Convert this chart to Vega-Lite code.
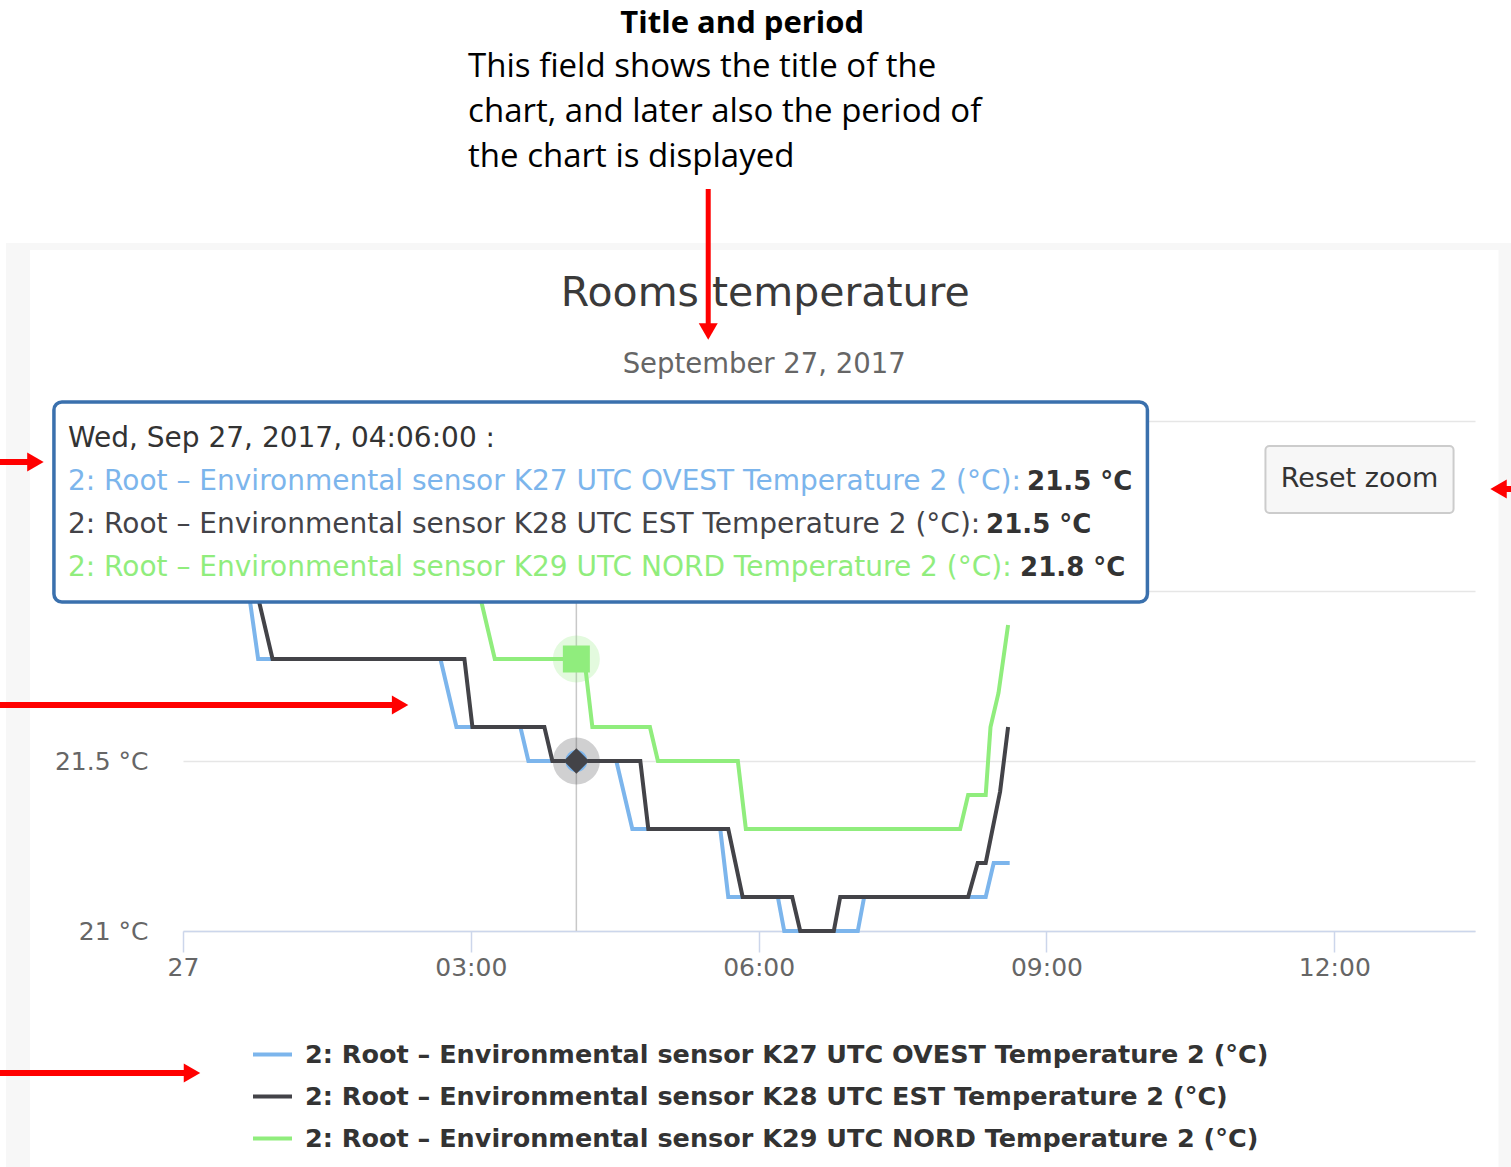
{
  "$schema": "https://vega.github.io/schema/vega-lite/v6.json",
  "autosize": {"type": "none"},
  "width": 1292,
  "height": 510,
  "padding": {"left": 183, "top": 421, "right": 36, "bottom": 236},
  "background": "white",
  "data": {"values": [{}]},
  "config": {
    "view": {"stroke": null},
    "font": "DejaVu Sans"
  },
  "datasets": {
    "readings": [
      {"sensor": "2: Root – Environmental sensor K27 UTC OVEST Temperature 2 (°C)", "time": "2017-09-27T00:00:00Z", "temperature": 22.2},
      {"sensor": "2: Root – Environmental sensor K27 UTC OVEST Temperature 2 (°C)", "time": "2017-09-27T00:36:00Z", "temperature": 22.2},
      {"sensor": "2: Root – Environmental sensor K27 UTC OVEST Temperature 2 (°C)", "time": "2017-09-27T00:41:00Z", "temperature": 22.0},
      {"sensor": "2: Root – Environmental sensor K27 UTC OVEST Temperature 2 (°C)", "time": "2017-09-27T00:47:00Z", "temperature": 21.8},
      {"sensor": "2: Root – Environmental sensor K27 UTC OVEST Temperature 2 (°C)", "time": "2017-09-27T02:41:00Z", "temperature": 21.8},
      {"sensor": "2: Root – Environmental sensor K27 UTC OVEST Temperature 2 (°C)", "time": "2017-09-27T02:51:00Z", "temperature": 21.6},
      {"sensor": "2: Root – Environmental sensor K27 UTC OVEST Temperature 2 (°C)", "time": "2017-09-27T03:31:00Z", "temperature": 21.6},
      {"sensor": "2: Root – Environmental sensor K27 UTC OVEST Temperature 2 (°C)", "time": "2017-09-27T03:36:00Z", "temperature": 21.5},
      {"sensor": "2: Root – Environmental sensor K27 UTC OVEST Temperature 2 (°C)", "time": "2017-09-27T04:31:00Z", "temperature": 21.5},
      {"sensor": "2: Root – Environmental sensor K27 UTC OVEST Temperature 2 (°C)", "time": "2017-09-27T04:41:00Z", "temperature": 21.3},
      {"sensor": "2: Root – Environmental sensor K27 UTC OVEST Temperature 2 (°C)", "time": "2017-09-27T05:36:00Z", "temperature": 21.3},
      {"sensor": "2: Root – Environmental sensor K27 UTC OVEST Temperature 2 (°C)", "time": "2017-09-27T05:41:00Z", "temperature": 21.1},
      {"sensor": "2: Root – Environmental sensor K27 UTC OVEST Temperature 2 (°C)", "time": "2017-09-27T06:12:00Z", "temperature": 21.1},
      {"sensor": "2: Root – Environmental sensor K27 UTC OVEST Temperature 2 (°C)", "time": "2017-09-27T06:16:00Z", "temperature": 21.0},
      {"sensor": "2: Root – Environmental sensor K27 UTC OVEST Temperature 2 (°C)", "time": "2017-09-27T07:02:00Z", "temperature": 21.0},
      {"sensor": "2: Root – Environmental sensor K27 UTC OVEST Temperature 2 (°C)", "time": "2017-09-27T07:06:00Z", "temperature": 21.1},
      {"sensor": "2: Root – Environmental sensor K27 UTC OVEST Temperature 2 (°C)", "time": "2017-09-27T08:22:00Z", "temperature": 21.1},
      {"sensor": "2: Root – Environmental sensor K27 UTC OVEST Temperature 2 (°C)", "time": "2017-09-27T08:27:00Z", "temperature": 21.2},
      {"sensor": "2: Root – Environmental sensor K27 UTC OVEST Temperature 2 (°C)", "time": "2017-09-27T08:37:00Z", "temperature": 21.2},
      {"sensor": "2: Root – Environmental sensor K28 UTC EST Temperature 2 (°C)", "time": "2017-09-27T00:00:00Z", "temperature": 22.3},
      {"sensor": "2: Root – Environmental sensor K28 UTC EST Temperature 2 (°C)", "time": "2017-09-27T00:38:00Z", "temperature": 22.3},
      {"sensor": "2: Root – Environmental sensor K28 UTC EST Temperature 2 (°C)", "time": "2017-09-27T00:46:00Z", "temperature": 22.0},
      {"sensor": "2: Root – Environmental sensor K28 UTC EST Temperature 2 (°C)", "time": "2017-09-27T00:56:00Z", "temperature": 21.8},
      {"sensor": "2: Root – Environmental sensor K28 UTC EST Temperature 2 (°C)", "time": "2017-09-27T02:56:00Z", "temperature": 21.8},
      {"sensor": "2: Root – Environmental sensor K28 UTC EST Temperature 2 (°C)", "time": "2017-09-27T03:01:00Z", "temperature": 21.6},
      {"sensor": "2: Root – Environmental sensor K28 UTC EST Temperature 2 (°C)", "time": "2017-09-27T03:46:00Z", "temperature": 21.6},
      {"sensor": "2: Root – Environmental sensor K28 UTC EST Temperature 2 (°C)", "time": "2017-09-27T03:51:00Z", "temperature": 21.5},
      {"sensor": "2: Root – Environmental sensor K28 UTC EST Temperature 2 (°C)", "time": "2017-09-27T04:46:00Z", "temperature": 21.5},
      {"sensor": "2: Root – Environmental sensor K28 UTC EST Temperature 2 (°C)", "time": "2017-09-27T04:51:00Z", "temperature": 21.3},
      {"sensor": "2: Root – Environmental sensor K28 UTC EST Temperature 2 (°C)", "time": "2017-09-27T05:41:00Z", "temperature": 21.3},
      {"sensor": "2: Root – Environmental sensor K28 UTC EST Temperature 2 (°C)", "time": "2017-09-27T05:50:00Z", "temperature": 21.1},
      {"sensor": "2: Root – Environmental sensor K28 UTC EST Temperature 2 (°C)", "time": "2017-09-27T06:21:00Z", "temperature": 21.1},
      {"sensor": "2: Root – Environmental sensor K28 UTC EST Temperature 2 (°C)", "time": "2017-09-27T06:26:00Z", "temperature": 21.0},
      {"sensor": "2: Root – Environmental sensor K28 UTC EST Temperature 2 (°C)", "time": "2017-09-27T06:47:00Z", "temperature": 21.0},
      {"sensor": "2: Root – Environmental sensor K28 UTC EST Temperature 2 (°C)", "time": "2017-09-27T06:51:00Z", "temperature": 21.1},
      {"sensor": "2: Root – Environmental sensor K28 UTC EST Temperature 2 (°C)", "time": "2017-09-27T08:11:00Z", "temperature": 21.1},
      {"sensor": "2: Root – Environmental sensor K28 UTC EST Temperature 2 (°C)", "time": "2017-09-27T08:17:00Z", "temperature": 21.2},
      {"sensor": "2: Root – Environmental sensor K28 UTC EST Temperature 2 (°C)", "time": "2017-09-27T08:22:00Z", "temperature": 21.2},
      {"sensor": "2: Root – Environmental sensor K28 UTC EST Temperature 2 (°C)", "time": "2017-09-27T08:31:00Z", "temperature": 21.41},
      {"sensor": "2: Root – Environmental sensor K28 UTC EST Temperature 2 (°C)", "time": "2017-09-27T08:36:00Z", "temperature": 21.6},
      {"sensor": "2: Root – Environmental sensor K29 UTC NORD Temperature 2 (°C)", "time": "2017-09-27T00:00:00Z", "temperature": 22.4},
      {"sensor": "2: Root – Environmental sensor K29 UTC NORD Temperature 2 (°C)", "time": "2017-09-27T02:50:00Z", "temperature": 22.4},
      {"sensor": "2: Root – Environmental sensor K29 UTC NORD Temperature 2 (°C)", "time": "2017-09-27T03:05:00Z", "temperature": 22.0},
      {"sensor": "2: Root – Environmental sensor K29 UTC NORD Temperature 2 (°C)", "time": "2017-09-27T03:15:00Z", "temperature": 21.8},
      {"sensor": "2: Root – Environmental sensor K29 UTC NORD Temperature 2 (°C)", "time": "2017-09-27T04:11:00Z", "temperature": 21.8},
      {"sensor": "2: Root – Environmental sensor K29 UTC NORD Temperature 2 (°C)", "time": "2017-09-27T04:16:00Z", "temperature": 21.6},
      {"sensor": "2: Root – Environmental sensor K29 UTC NORD Temperature 2 (°C)", "time": "2017-09-27T04:52:00Z", "temperature": 21.6},
      {"sensor": "2: Root – Environmental sensor K29 UTC NORD Temperature 2 (°C)", "time": "2017-09-27T04:57:00Z", "temperature": 21.5},
      {"sensor": "2: Root – Environmental sensor K29 UTC NORD Temperature 2 (°C)", "time": "2017-09-27T05:47:00Z", "temperature": 21.5},
      {"sensor": "2: Root – Environmental sensor K29 UTC NORD Temperature 2 (°C)", "time": "2017-09-27T05:52:00Z", "temperature": 21.3},
      {"sensor": "2: Root – Environmental sensor K29 UTC NORD Temperature 2 (°C)", "time": "2017-09-27T08:06:00Z", "temperature": 21.3},
      {"sensor": "2: Root – Environmental sensor K29 UTC NORD Temperature 2 (°C)", "time": "2017-09-27T08:11:00Z", "temperature": 21.4},
      {"sensor": "2: Root – Environmental sensor K29 UTC NORD Temperature 2 (°C)", "time": "2017-09-27T08:22:00Z", "temperature": 21.4},
      {"sensor": "2: Root – Environmental sensor K29 UTC NORD Temperature 2 (°C)", "time": "2017-09-27T08:25:00Z", "temperature": 21.6},
      {"sensor": "2: Root – Environmental sensor K29 UTC NORD Temperature 2 (°C)", "time": "2017-09-27T08:30:00Z", "temperature": 21.7},
      {"sensor": "2: Root – Environmental sensor K29 UTC NORD Temperature 2 (°C)", "time": "2017-09-27T08:36:00Z", "temperature": 21.9}
    ],
    "hovered": [
      {"sensor": "2: Root – Environmental sensor K27 UTC OVEST Temperature 2 (°C)", "time": "2017-09-27T04:06:00Z", "temperature": 21.5},
      {"sensor": "2: Root – Environmental sensor K28 UTC EST Temperature 2 (°C)", "time": "2017-09-27T04:06:00Z", "temperature": 21.5},
      {"sensor": "2: Root – Environmental sensor K29 UTC NORD Temperature 2 (°C)", "time": "2017-09-27T04:06:00Z", "temperature": 21.8}
    ]
  },
  "layer": [
    {
      "data": {"name": "readings"},
      "mark": {"type": "line", "strokeWidth": 4, "interpolate": "linear"},
      "encoding": {
        "x": {
          "field": "time", "type": "temporal",
          "scale": {"type": "utc", "nice": false, "domain": [
            {"year": 2017, "month": 9, "date": 27, "hours": 0, "minutes": 0, "utc": true},
            {"year": 2017, "month": 9, "date": 27, "hours": 13, "minutes": 28, "utc": true}
          ]},
          "axis": {
            "title": null, "grid": false,
            "values": [
              {"year": 2017, "month": 9, "date": 27, "hours": 0, "utc": true},
              {"year": 2017, "month": 9, "date": 27, "hours": 3, "utc": true},
              {"year": 2017, "month": 9, "date": 27, "hours": 6, "utc": true},
              {"year": 2017, "month": 9, "date": 27, "hours": 9, "utc": true},
              {"year": 2017, "month": 9, "date": 27, "hours": 12, "utc": true}
            ],
            "labelExpr": "utchours(datum.value) == 0 ? utcFormat(datum.value, '%d') : utcFormat(datum.value, '%H:%M')",
            "domainColor": "#ccd6eb", "domainWidth": 1.5, "tickColor": "#ccd6eb", "tickWidth": 1.5, "tickSize": 21,
            "labelPadding": 3, "labelFontSize": 25, "labelColor": "#666666", "labelFont": "DejaVu Sans",
            "labelFlush": false, "labelOverlap": false
          }
        },
        "y": {
          "field": "temperature", "type": "quantitative",
          "scale": {"domain": [21, 22.5], "nice": false, "zero": false},
          "axis": {
            "title": null, "values": [21, 21.5, 22, 22.5],
            "labelExpr": "datum.value < 22 ? datum.value + ' °C' : ''",
            "domain": false, "ticks": false, "grid": true, "gridColor": "#e6e6e6", "gridWidth": 1.5,
            "labelPadding": 35, "labelFontSize": 25, "labelColor": "#666666", "labelFont": "DejaVu Sans"
          }
        },
        "color": {
          "field": "sensor", "type": "nominal",
          "scale": {
            "domain": [
              "2: Root – Environmental sensor K27 UTC OVEST Temperature 2 (°C)",
              "2: Root – Environmental sensor K28 UTC EST Temperature 2 (°C)",
              "2: Root – Environmental sensor K29 UTC NORD Temperature 2 (°C)"
            ],
            "range": ["#7cb5ec", "#434348", "#90ed7d"]
          },
          "legend": {
            "orient": "none", "legendX": 68, "legendY": 612, "title": null, "direction": "vertical",
            "symbolType": "stroke", "symbolSize": 1521, "symbolStrokeWidth": 4,
            "labelFont": "DejaVu Sans", "labelFontSize": 25.5, "labelFontWeight": "bold",
            "labelColor": "#333333", "labelLimit": 1400, "labelOffset": 11, "rowPadding": 7, "padding": 0
          }
        }
      }
    },
    {
      "mark": {"type": "rect", "fill": "#f7f7f7"},
      "encoding": {
        "x": {"datum": {"year": 2017, "month": 9, "date": 26, "hours": 22, "minutes": 9, "seconds": 16, "utc": true}, "type": "temporal"},
        "x2": {"datum": {"year": 2017, "month": 9, "date": 26, "hours": 22, "minutes": 24, "seconds": 17, "utc": true}},
        "y": {"datum": 23.0235, "type": "quantitative"},
        "y2": {"datum": 20.3}
      }
    },
    {
      "mark": {"type": "rect", "fill": "#f7f7f7"},
      "encoding": {
        "x": {"datum": {"year": 2017, "month": 9, "date": 26, "hours": 22, "minutes": 9, "seconds": 16, "utc": true}, "type": "temporal"},
        "x2": {"datum": {"year": 2017, "month": 9, "date": 27, "hours": 13, "minutes": 50, "seconds": 53, "utc": true}},
        "y": {"datum": 23.0235, "type": "quantitative"},
        "y2": {"datum": 23.0029}
      }
    },
    {
      "mark": {"type": "rect", "fill": "#f7f7f7"},
      "encoding": {
        "x": {"datum": {"year": 2017, "month": 9, "date": 27, "hours": 13, "minutes": 42, "seconds": 43, "utc": true}, "type": "temporal"},
        "x2": {"datum": {"year": 2017, "month": 9, "date": 27, "hours": 13, "minutes": 50, "seconds": 53, "utc": true}},
        "y": {"datum": 23.0235, "type": "quantitative"},
        "y2": {"datum": 20.3}
      }
    },
    {
      "mark": {"type": "rule", "color": "#c8c8c8", "strokeWidth": 1.5},
      "encoding": {
        "x": {"datum": {"year": 2017, "month": 9, "date": 27, "hours": 4, "minutes": 6, "utc": true}, "type": "temporal"},
        "y": {"datum": 21, "type": "quantitative"},
        "y2": {"datum": 22.5}
      }
    },
    {
      "data": {"name": "hovered"},
      "transform": [{"filter": {"field": "sensor", "oneOf": [
        "2: Root – Environmental sensor K28 UTC EST Temperature 2 (°C)",
        "2: Root – Environmental sensor K29 UTC NORD Temperature 2 (°C)"
      ]}}],
      "mark": {"type": "point", "filled": true, "shape": "circle", "size": 2209, "opacity": 0.25},
      "encoding": {
        "x": {"field": "time", "type": "temporal"},
        "y": {"field": "temperature", "type": "quantitative"},
        "color": {"field": "sensor", "type": "nominal", "legend": null}
      }
    },
    {
      "data": {"name": "hovered"},
      "transform": [{"filter": {"field": "sensor", "equal": "2: Root – Environmental sensor K27 UTC OVEST Temperature 2 (°C)"}}],
      "mark": {"type": "point", "filled": true, "opacity": 1, "shape": "circle", "size": 484},
      "encoding": {
        "x": {"field": "time", "type": "temporal"},
        "y": {"field": "temperature", "type": "quantitative"},
        "color": {"field": "sensor", "type": "nominal", "legend": null}
      }
    },
    {
      "data": {"name": "hovered"},
      "transform": [{"filter": {"field": "sensor", "equal": "2: Root – Environmental sensor K28 UTC EST Temperature 2 (°C)"}}],
      "mark": {"type": "point", "filled": true, "opacity": 1, "shape": "diamond", "size": 650},
      "encoding": {
        "x": {"field": "time", "type": "temporal"},
        "y": {"field": "temperature", "type": "quantitative"},
        "color": {"field": "sensor", "type": "nominal", "legend": null}
      }
    },
    {
      "data": {"name": "hovered"},
      "transform": [{"filter": {"field": "sensor", "equal": "2: Root – Environmental sensor K29 UTC NORD Temperature 2 (°C)"}}],
      "mark": {"type": "point", "filled": true, "opacity": 1, "shape": "square", "size": 729},
      "encoding": {
        "x": {"field": "time", "type": "temporal"},
        "y": {"field": "temperature", "type": "quantitative"},
        "color": {"field": "sensor", "type": "nominal", "legend": null}
      }
    },
    {
      "mark": {"type": "rect", "fill": "white", "stroke": "#3a70ad", "strokeWidth": 3.5, "cornerRadius": 8},
      "encoding": {
        "x": {"datum": {"year": 2017, "month": 9, "date": 26, "hours": 22, "minutes": 39, "seconds": 17, "utc": true}, "type": "temporal"},
        "x2": {"datum": {"year": 2017, "month": 9, "date": 27, "hours": 10, "minutes": 3, "seconds": 8, "utc": true}},
        "y": {"datum": 22.5559, "type": "quantitative"},
        "y2": {"datum": 21.9676}
      }
    },
    {
      "mark": {"type": "text", "align": "left", "baseline": "alphabetic", "font": "DejaVu Sans", "fontSize": 28, "color": "#333333"},
      "encoding": {
        "x": {"datum": {"year": 2017, "month": 9, "date": 26, "hours": 22, "minutes": 48, "seconds": 3, "utc": true}, "type": "temporal"},
        "y": {"datum": 22.4235, "type": "quantitative"},
        "text": {"value": "Wed, Sep 27, 2017, 04:06:00 :"}
      }
    },
    {
      "mark": {"type": "text", "align": "left", "baseline": "alphabetic", "font": "DejaVu Sans", "fontSize": 28, "color": "#7cb5ec"},
      "encoding": {
        "x": {"datum": {"year": 2017, "month": 9, "date": 26, "hours": 22, "minutes": 48, "seconds": 3, "utc": true}, "type": "temporal"},
        "y": {"datum": 22.2971, "type": "quantitative"},
        "text": {"value": "2: Root – Environmental sensor K27 UTC OVEST Temperature 2 (°C):"}
      }
    },
    {
      "mark": {"type": "text", "align": "left", "baseline": "alphabetic", "font": "DejaVu Sans", "fontSize": 28, "color": "#434348"},
      "encoding": {
        "x": {"datum": {"year": 2017, "month": 9, "date": 26, "hours": 22, "minutes": 48, "seconds": 3, "utc": true}, "type": "temporal"},
        "y": {"datum": 22.1706, "type": "quantitative"},
        "text": {"value": "2: Root – Environmental sensor K28 UTC EST Temperature 2 (°C):"}
      }
    },
    {
      "mark": {"type": "text", "align": "left", "baseline": "alphabetic", "font": "DejaVu Sans", "fontSize": 28, "color": "#90ed7d"},
      "encoding": {
        "x": {"datum": {"year": 2017, "month": 9, "date": 26, "hours": 22, "minutes": 48, "seconds": 3, "utc": true}, "type": "temporal"},
        "y": {"datum": 22.0441, "type": "quantitative"},
        "text": {"value": "2: Root – Environmental sensor K29 UTC NORD Temperature 2 (°C):"}
      }
    },
    {
      "mark": {"type": "text", "align": "right", "baseline": "alphabetic", "font": "DejaVu Sans", "fontSize": 26, "fontWeight": "bold", "color": "#333333"},
      "encoding": {
        "x": {"datum": {"year": 2017, "month": 9, "date": 27, "hours": 9, "minutes": 53, "seconds": 45, "utc": true}, "type": "temporal"},
        "y": {"datum": 22.2971, "type": "quantitative"},
        "text": {"value": "21.5 °C"}
      }
    },
    {
      "mark": {"type": "text", "align": "right", "baseline": "alphabetic", "font": "DejaVu Sans", "fontSize": 26, "fontWeight": "bold", "color": "#333333"},
      "encoding": {
        "x": {"datum": {"year": 2017, "month": 9, "date": 27, "hours": 9, "minutes": 28, "seconds": 6, "utc": true}, "type": "temporal"},
        "y": {"datum": 22.1706, "type": "quantitative"},
        "text": {"value": "21.5 °C"}
      }
    },
    {
      "mark": {"type": "text", "align": "right", "baseline": "alphabetic", "font": "DejaVu Sans", "fontSize": 26, "fontWeight": "bold", "color": "#333333"},
      "encoding": {
        "x": {"datum": {"year": 2017, "month": 9, "date": 27, "hours": 9, "minutes": 49, "seconds": 22, "utc": true}, "type": "temporal"},
        "y": {"datum": 22.0441, "type": "quantitative"},
        "text": {"value": "21.8 °C"}
      }
    },
    {
      "mark": {"type": "rect", "fill": "#f7f7f7", "stroke": "#cccccc", "strokeWidth": 2, "cornerRadius": 4},
      "encoding": {
        "x": {"datum": {"year": 2017, "month": 9, "date": 27, "hours": 11, "minutes": 16, "seconds": 57, "utc": true}, "type": "temporal"},
        "x2": {"datum": {"year": 2017, "month": 9, "date": 27, "hours": 13, "minutes": 14, "seconds": 35, "utc": true}},
        "y": {"datum": 22.4265, "type": "quantitative"},
        "y2": {"datum": 22.2294}
      }
    },
    {
      "mark": {"type": "text", "align": "center", "baseline": "alphabetic", "font": "DejaVu Sans", "fontSize": 27, "color": "#333333"},
      "encoding": {
        "x": {"datum": {"year": 2017, "month": 9, "date": 27, "hours": 12, "minutes": 15, "seconds": 46, "utc": true}, "type": "temporal"},
        "y": {"datum": 22.3059, "type": "quantitative"},
        "text": {"value": "Reset zoom"}
      }
    },
    {
      "mark": {"type": "text", "align": "center", "baseline": "alphabetic", "font": "DejaVu Sans", "fontSize": 41, "color": "#3a3a3a"},
      "encoding": {
        "x": {"datum": {"year": 2017, "month": 9, "date": 27, "hours": 6, "minutes": 4, "seconds": 8, "utc": true}, "type": "temporal"},
        "y": {"datum": 22.8382, "type": "quantitative"},
        "text": {"value": "Rooms temperature"}
      }
    },
    {
      "mark": {"type": "text", "align": "center", "baseline": "alphabetic", "font": "DejaVu Sans", "fontSize": 27.5, "color": "#666666"},
      "encoding": {
        "x": {"datum": {"year": 2017, "month": 9, "date": 27, "hours": 6, "minutes": 3, "seconds": 30, "utc": true}, "type": "temporal"},
        "y": {"datum": 22.6412, "type": "quantitative"},
        "text": {"value": "September 27, 2017"}
      }
    },
    {
      "mark": {"type": "text", "align": "center", "baseline": "alphabetic", "font": "Open Sans", "fontSize": 31, "fontWeight": "bold", "color": "#000000"},
      "encoding": {
        "x": {"datum": {"year": 2017, "month": 9, "date": 27, "hours": 5, "minutes": 49, "seconds": 44, "utc": true}, "type": "temporal"},
        "y": {"datum": 23.6412, "type": "quantitative"},
        "text": {"value": "Title and period"}
      }
    },
    {
      "mark": {"type": "text", "align": "left", "baseline": "alphabetic", "font": "Open Sans", "fontSize": 33, "lineHeight": 45, "color": "#000000"},
      "encoding": {
        "x": {"datum": {"year": 2017, "month": 9, "date": 27, "hours": 2, "minutes": 58, "seconds": 18, "utc": true}, "type": "temporal"},
        "y": {"datum": 23.5118, "type": "quantitative"},
        "text": {"value": ["This field shows the title of the", "chart, and later also the period of", "the chart is displayed"]}
      }
    },
    {
      "mark": {"type": "rule", "color": "#ff0000", "strokeWidth": 5},
      "encoding": {
        "x": {"datum": {"year": 2017, "month": 9, "date": 27, "hours": 5, "minutes": 28, "seconds": 28, "utc": true}, "type": "temporal"},
        "y": {"datum": 23.1824, "type": "quantitative"},
        "y2": {"datum": 22.7794}
      }
    },
    {
      "mark": {"type": "point", "shape": "triangle-down", "filled": true, "color": "#ff0000", "opacity": 1, "size": 361},
      "encoding": {
        "x": {"datum": {"year": 2017, "month": 9, "date": 27, "hours": 5, "minutes": 28, "seconds": 28, "utc": true}, "type": "temporal"},
        "y": {"datum": 22.7632, "type": "quantitative"}
      }
    },
    {
      "mark": {"type": "rule", "color": "#ff0000", "strokeWidth": 6},
      "encoding": {
        "x": {"datum": {"year": 2017, "month": 9, "date": 26, "hours": 22, "minutes": 3, "seconds": 0, "utc": true}, "type": "temporal"},
        "x2": {"datum": {"year": 2017, "month": 9, "date": 26, "hours": 22, "minutes": 25, "seconds": 32, "utc": true}},
        "y": {"datum": 22.3794, "type": "quantitative"}
      }
    },
    {
      "mark": {"type": "point", "shape": "triangle-right", "filled": true, "color": "#ff0000", "opacity": 1, "size": 361},
      "encoding": {
        "x": {"datum": {"year": 2017, "month": 9, "date": 26, "hours": 22, "minutes": 27, "seconds": 43, "utc": true}, "type": "temporal"},
        "y": {"datum": 22.3794, "type": "quantitative"}
      }
    },
    {
      "mark": {"type": "rule", "color": "#ff0000", "strokeWidth": 6},
      "encoding": {
        "x": {"datum": {"year": 2017, "month": 9, "date": 26, "hours": 22, "minutes": 3, "seconds": 0, "utc": true}, "type": "temporal"},
        "x2": {"datum": {"year": 2017, "month": 9, "date": 27, "hours": 2, "minutes": 10, "seconds": 46, "utc": true}},
        "y": {"datum": 21.6647, "type": "quantitative"}
      }
    },
    {
      "mark": {"type": "point", "shape": "triangle-right", "filled": true, "color": "#ff0000", "opacity": 1, "size": 361},
      "encoding": {
        "x": {"datum": {"year": 2017, "month": 9, "date": 27, "hours": 2, "minutes": 15, "seconds": 46, "utc": true}, "type": "temporal"},
        "y": {"datum": 21.6647, "type": "quantitative"}
      }
    },
    {
      "mark": {"type": "rule", "color": "#ff0000", "strokeWidth": 6},
      "encoding": {
        "x": {"datum": {"year": 2017, "month": 9, "date": 26, "hours": 22, "minutes": 3, "seconds": 0, "utc": true}, "type": "temporal"},
        "x2": {"datum": {"year": 2017, "month": 9, "date": 27, "hours": 0, "minutes": 0, "seconds": 38, "utc": true}},
        "y": {"datum": 20.5824, "type": "quantitative"}
      }
    },
    {
      "mark": {"type": "point", "shape": "triangle-right", "filled": true, "color": "#ff0000", "opacity": 1, "size": 361},
      "encoding": {
        "x": {"datum": {"year": 2017, "month": 9, "date": 27, "hours": 0, "minutes": 5, "seconds": 38, "utc": true}, "type": "temporal"},
        "y": {"datum": 20.5824, "type": "quantitative"}
      }
    },
    {
      "mark": {"type": "rule", "color": "#ff0000", "strokeWidth": 6},
      "encoding": {
        "x": {"datum": {"year": 2017, "month": 9, "date": 27, "hours": 13, "minutes": 43, "seconds": 59, "utc": true}, "type": "temporal"},
        "x2": {"datum": {"year": 2017, "month": 9, "date": 27, "hours": 13, "minutes": 55, "seconds": 0, "utc": true}},
        "y": {"datum": 22.3, "type": "quantitative"}
      }
    },
    {
      "mark": {"type": "point", "shape": "triangle-left", "filled": true, "color": "#ff0000", "opacity": 1, "size": 361},
      "encoding": {
        "x": {"datum": {"year": 2017, "month": 9, "date": 27, "hours": 13, "minutes": 42, "seconds": 43, "utc": true}, "type": "temporal"},
        "y": {"datum": 22.3, "type": "quantitative"}
      }
    }
  ]
}
